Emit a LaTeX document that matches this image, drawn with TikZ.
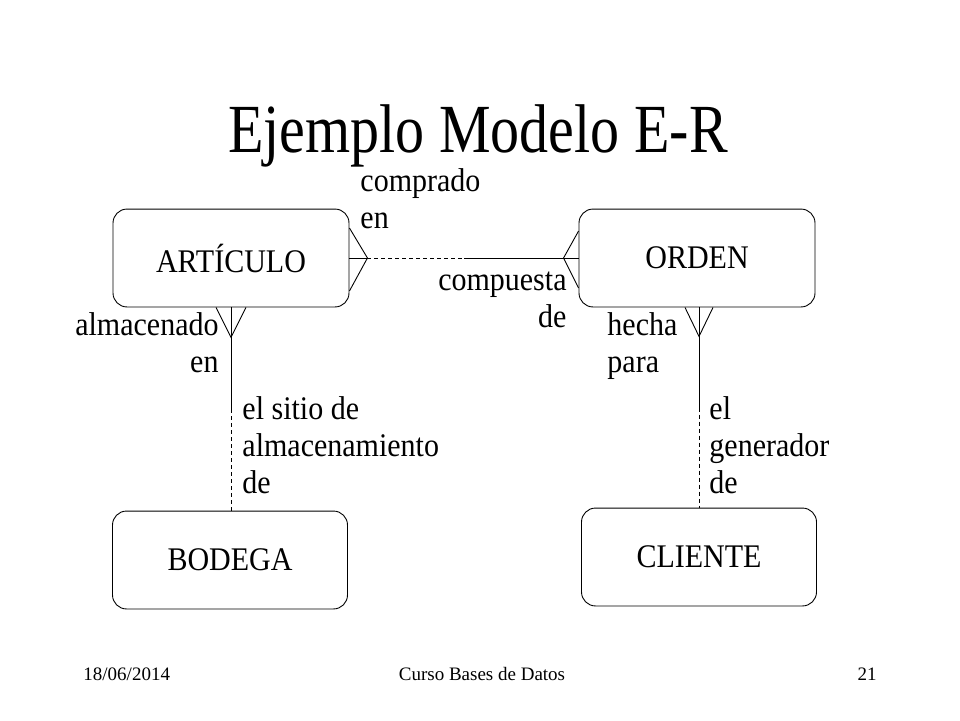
\documentclass[tikz,border=0pt]{standalone}
\usepackage{fontspec}
\setmainfont{Liberation Serif}
\usetikzlibrary{calc}

\begin{document}
\begin{tikzpicture}[x=1pt, y=-1pt, line width=0.9pt,
	entity/.style={draw, rounded corners=14pt, minimum width=236pt, minimum height=89pt, inner sep=0pt, font=\fontsize{30}{33.6}\selectfont, yscale=1.1, transform shape},
	lbl/.style={inner sep=0pt, font=\fontsize{30}{33.6}\selectfont, yscale=1.1, transform shape},
	halfdash/.style={dash pattern=on 4pt off 3pt}]
	\useasboundingbox (0,0) rectangle (960,720);
	\node[lbl, font=\fontsize{58}{60}\selectfont, yscale=1.08, anchor=base] (title) at (478,152) {Ejemplo Modelo E-R};
	\node[entity] (articulo) at (231,258) {ART\'ICULO};
	\node[entity] (orden) at (697,258) {ORDEN};
	\node[entity, minimum width=235pt] (bodega) at (230,560) {BODEGA};
	\node[entity, minimum width=235pt] (cliente) at (699,557) {CLIENTE};
	\coordinate (midtop) at ($(articulo.east)!0.5!(orden.west)$);
	\coordinate (midleft) at ($(articulo.south)!0.5!(articulo.south |- bodega.north)$);
	\coordinate (midright) at ($(orden.south -| cliente.north)!0.5!(cliente.north)$);
	\draw ($(articulo.east)+(0,-30)$) -- ($(articulo.east)+(18,0)$) -- ($(articulo.east)+(0,33)$);
	\draw (articulo.east) -- ($(articulo.east)+(18,0)$);
	\draw[halfdash] ($(articulo.east)+(18,0)$) -- (midtop);
	\draw (midtop) -- (orden.west);
	\draw ($(orden.west)+(0,-27)$) -- ($(orden.west)+(-15,0)$) -- ($(orden.west)+(0,30)$);
	\draw ($(articulo.south)+(-15,0)$) -- ($(articulo.south)+(0,30)$) -- ($(articulo.south)+(15,0)$);
	\draw (articulo.south) -- (midleft);
	\draw[halfdash] (midleft) -- (articulo.south |- bodega.north);
	\draw ($(orden.south -| cliente.north)+(-14,0)$) -- ($(orden.south -| cliente.north)+(0,29)$) -- ($(orden.south -| cliente.north)+(14,0)$);
	\draw (orden.south -| cliente.north) -- (midright);
	\draw[halfdash] (midright) -- (cliente.north);
	\node[lbl, align=left, anchor=base west] (comprado) at (360,228) {comprado\\en};
	\node[lbl, align=right, anchor=base east] (almacenado) at (219,372) {almacenado\\en};
	\node[lbl, align=left, anchor=base west] (sitio) at (242,493) {el sitio de\\almacenamiento\\de};
	\node[lbl, align=right, anchor=base east] (compuesta) at (567,327) {compuesta\\de};
	\node[lbl, align=left, anchor=base west] (hecha) at (607,372) {hecha\\para};
	\node[lbl, align=left, anchor=base west] (generador) at (709,493) {el\\generador\\de};
	\node[inner sep=0pt, font=\fontsize{19}{20}\selectfont, anchor=base west] (fecha) at (83,680) {18/06/2014};
	\node[inner sep=0pt, font=\fontsize{19}{20}\selectfont, anchor=base] (curso) at (482,680) {Curso Bases de Datos};
	\node[inner sep=0pt, font=\fontsize{19}{20}\selectfont, anchor=base east] (pagina) at (877,680) {21};
\end{tikzpicture}
\end{document}
